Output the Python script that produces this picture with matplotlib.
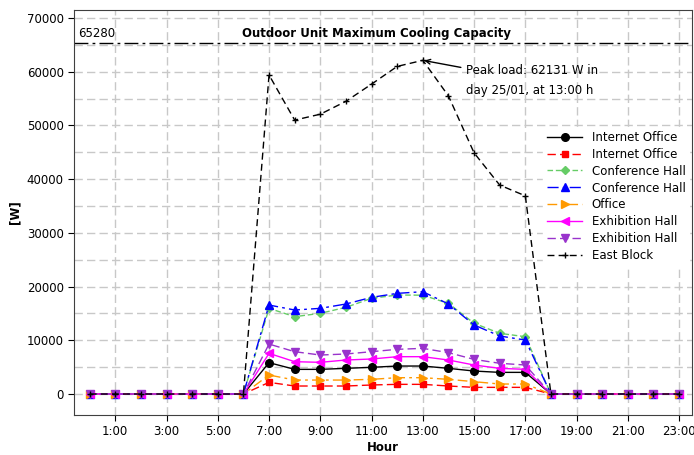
import matplotlib.pyplot as plt
import numpy as np

# hours 0..23
hours = list(range(24))
tick_hours = list(range(1, 24, 2))
tick_labels = ["%d:00" % h for h in tick_hours]

# cooling loads [W] for hours 7..17 (all other hours are 0)
internet_office_1 = [5840, 4590, 4590, 4780, 4970, 5210, 5210, 4780, 4280, 4030, 4030]
internet_office_2 = [2170, 1490, 1490, 1490, 1680, 1800, 1800, 1490, 1240, 1240, 1240]
conference_hall_1 = [15950, 14400, 15020, 16140, 17820, 18430, 18400, 16880, 13170, 11300, 10670]
conference_hall_2 = [16570, 15640, 15950, 16760, 18000, 18740, 19050, 16760, 12850, 10800, 10050]
office = [3540, 2600, 2600, 2600, 2730, 3040, 3040, 2730, 2300, 1860, 1860]
exhibition_hall_1 = [7570, 6020, 5900, 6330, 6520, 6950, 6950, 6330, 5400, 4780, 4590]
exhibition_hall_2 = [9300, 7880, 7260, 7450, 7880, 8320, 8500, 7700, 6450, 5720, 5400]
east_block = [59400, 51000, 52100, 54500, 57700, 61000, 62131, 55500, 44900, 38900, 36900]

capacity = 65280


def full_day(vals):
    # 0 before 7:00 and from 18:00 on
    return [0] * 7 + vals + [0] * 6


plt.rcParams["font.family"] = "DejaVu Sans"
fig = plt.figure(figsize=(6.94, 4.55), dpi=100)
ax = fig.add_axes([0.107, 0.088, 0.89, 0.89])

series = [
    ("Internet Office", internet_office_1, "black", "-", "o", 5.5),
    ("Internet Office", internet_office_2, "#ff0000", (0, (6, 3)), "s", 4.5),
    ("Conference Hall", conference_hall_1, "#66cc66", (0, (4, 2)), "D", 4.5),
    ("Conference Hall", conference_hall_2, "#0000ff", (0, (8, 3, 2, 3)), "^", 5.5),
    ("Office", office, "#ff9900", (0, (7, 3, 2, 3)), ">", 5.5),
    ("Exhibition Hall", exhibition_hall_1, "#ff00ff", "-", "<", 5.5),
    ("Exhibition Hall", exhibition_hall_2, "#9933cc", (0, (6, 3)), "v", 5.5),
]

for name, vals, col, ls, mk, ms in series:
    ax.plot(hours, full_day(vals), color=col, linestyle=ls, marker=mk,
            markersize=ms, linewidth=1, label=name, zorder=3)

ax.plot(hours, full_day(east_block), color="black", linestyle=(0, (5, 3)),
        marker="+", markersize=5, linewidth=1, label="East Block", zorder=3)

# capacity line
ax.axhline(capacity, color="black", linestyle=(0, (10, 3, 2, 3)), linewidth=1, zorder=2)
ax.text(-0.45, 67200, "65280", fontsize=8.5, va="center", ha="left")
ax.text(0.49, 67200, "Outdoor Unit Maximum Cooling Capacity",
        transform=ax.get_yaxis_transform(),
        fontsize=8.5, fontweight="bold", ha="center", va="center")

# peak annotation
ax.annotate("Peak load: 62131 W in\nday 25/01, at 13:00 h", xy=(13, 62131),
            xytext=(14.7, 61400), fontsize=8.5, va="top", ha="left", linespacing=1.7,
            arrowprops=dict(arrowstyle="->", color="black", lw=1, shrinkA=2, shrinkB=1))

ax.set_xlim(-0.6, 23.5)
ax.set_ylim(-3900, 71500)
ax.set_xticks(tick_hours)
ax.set_xticklabels(tick_labels)
ax.set_yticks(np.arange(0, 70001, 10000))
ax.set_yticks(np.arange(5000, 70000, 10000), minor=True)
ax.tick_params(labelsize=8.5, length=4)
ax.tick_params(which="minor", length=0)
ax.grid(True, which="both", color="#c8c8c8", linestyle=(0, (6, 3)), linewidth=1, zorder=0)
ax.set_axisbelow(True)

ax.set_xlabel("Hour", fontsize=8.5, fontweight="bold", labelpad=2)
ax.set_ylabel("[W]", fontsize=8.5, fontweight="bold")

for s in ax.spines.values():
    s.set_color("#404040")

ax.legend(loc="upper left", bbox_to_anchor=(0.75, 0.725), fontsize=8.5, frameon=True,
          facecolor="white", edgecolor="white", framealpha=1, handlelength=3,
          labelspacing=0.33, borderpad=0.3)

fig.savefig("out.png", dpi=100)
